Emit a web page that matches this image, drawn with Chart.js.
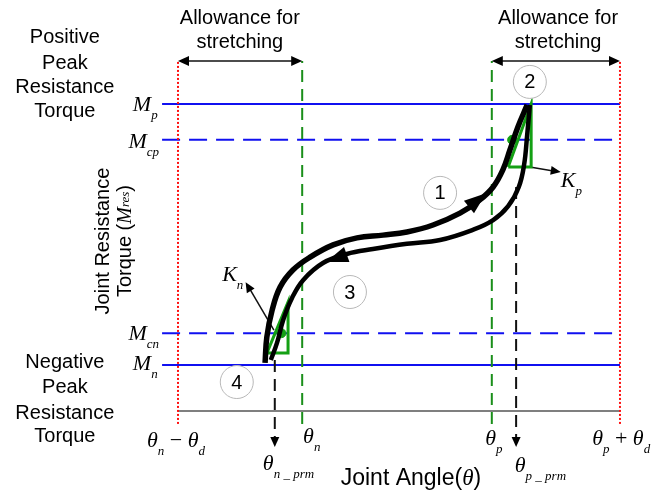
<!DOCTYPE html>
<html>
<head>
<meta charset="utf-8">
<script src="https://cdn.jsdelivr.net/npm/chart.js@4.4.1/dist/chart.umd.min.js"></script>
<style>
  body { margin: 0; background: #fff; }
</style>
</head>
<body>
<canvas id="chart" width="669" height="494"></canvas>
<script>
// angle axis: 0 = θn-θd, 100 = θp+θd ; torque axis: 0 = bottom axis line, 100 = top of the frame
const thetaNd = 0, thetaNprm = 21.9, thetaN = 28.1, thetaP = 71.0, thetaPprm = 76.5, thetaPd = 100;
const mN = 13.2, mCn = 22.3, mCp = 77.7, mP = 88.0;
const frameTop = 100.3, frameBottom = -3.7, lineStart = -3.6, arrowEnd = -10.3;

// path 1 (loading, going right)
const loadX = [19.7, 20.1, 21.3, 23.1, 26.0, 29.9, 35.1, 40.5, 46.4, 51.8, 57.7, 63.8, 68.3, 71.3, 73.5, 75.1, 76.9, 79.0];
const loadY = [13.8, 21.2, 28.9, 35.5, 40.4, 44.1, 47.6, 49.6, 50.4, 51.3, 53.3, 56.7, 60.5, 64.2, 69.1, 74.8, 81.4, 87.7];
// path 3 (unloading, going left)
const unloadX = [79.6, 79.0, 78.3, 77.1, 74.7, 71.3, 66.7, 59.3, 51.8, 44.1, 38.2, 32.8, 28.3, 25.8, 23.8, 22.4, 21.0];
const unloadY = [87.7, 79.1, 70.5, 64.2, 58.7, 54.7, 51.9, 49.0, 47.9, 46.4, 45.0, 42.4, 37.5, 32.4, 26.1, 19.5, 14.6];

// stiffness triangles
const kpX = [74.7, 79.9, 79.9, 74.7];
const kpY = [69.9, 69.9, 88.0, 69.9];
const knX = [20.1, 24.9, 24.9, 20.1];
const knY = [16.6, 16.6, 31.2, 16.6];
const dotX = [75.6, 23.4];
const dotY = [mCp, mCn];

// numbered stages
const stageNames = ['1', '2', '3', '4'];
const stageX = [59.3, 79.6, 38.9, 13.3];
const stageY = [62.5, 94.3, 34.1, 8.3];

const seg = (xs, ys) => xs.map((x, i) => ({ x: x, y: ys[i] }));

function line(data, color, width, dash, order) {
  return {
    data: data, showLine: true, borderColor: color, borderWidth: width,
    borderDash: dash || [], pointRadius: 0, fill: false, tension: 0, order: order || 10
  };
}

const blue = '#1010f0', green = '#1a8f1a', bright = '#14a014', red = '#ff1010';

const datasets = [
  Object.assign(line(seg(loadX, loadY), '#000', 5.5, null, 1), { tension: 0.4 }),
  Object.assign(line(seg(unloadX, unloadY), '#000', 4.5, null, 1), { tension: 0.4 }),
  line(seg(kpX, kpY), bright, 3, null, 2),
  line(seg(knX, knY), bright, 3, null, 2),
  { data: seg(dotX, dotY), pointRadius: 4.5, pointBackgroundColor: bright, pointBorderColor: bright, order: 2 },
  { data: seg(stageX, stageY), pointRadius: 16.5, pointBackgroundColor: '#fff', pointBorderColor: '#b8b8b8', pointBorderWidth: 1, order: 0 },
  line(seg([lineStart, thetaPd], [mP, mP]), blue, 2, null, 5),
  line(seg([lineStart, thetaPd], [mN, mN]), blue, 2, null, 5),
  line(seg([lineStart, thetaPd], [mCp, mCp]), blue, 2, [18, 9], 5),
  line(seg([lineStart, thetaPd], [mCn, mCn]), blue, 2, [18, 9], 5),
  line(seg([thetaNd, thetaNd], [frameBottom, frameTop]), red, 2, [2, 2], 4),
  line(seg([thetaPd, thetaPd], [frameBottom, frameTop]), red, 2, [2, 2], 4),
  line(seg([thetaN, thetaN], [frameBottom, frameTop]), green, 2, [12, 7], 4),
  line(seg([thetaP, thetaP], [frameBottom, frameTop]), green, 2, [12, 7], 4),
  line(seg([thetaNprm, thetaNprm], [14.6, arrowEnd + 2]), '#111', 2, [12, 7], 4),
  line(seg([thetaPprm, thetaPprm], [64.2, arrowEnd + 2]), '#111', 2, [12, 7], 4),
  line(seg([thetaNd, thetaPd], [0, 0]), '#000', 1.2, null, 6),
  line(seg([thetaNd + 2, thetaN - 2], [frameTop, frameTop]), '#111', 1.5, null, 6),
  line(seg([thetaP + 2, thetaPd - 2], [frameTop, frameTop]), '#111', 1.5, null, 6),
  line(seg([79.6, 85.6], [69.9, 68.6]), '#111', 1.5, null, 3),
  line(seg([21.7, 16.0], [23.2, 35.5]), '#111', 1.5, null, 3)
];

// arrowheads: [fromX, fromY, tipX, tipY, length, halfWidth]
const heads = [
  [65.6, 58.2, 69.7, 62.4, 22, 8],
  [38.5, 45.0, 33.5, 42.7, 22, 8],
  [thetaN - 5, frameTop, thetaNd, frameTop, 11, 5],
  [thetaNd + 5, frameTop, thetaN, frameTop, 11, 5],
  [thetaPd - 5, frameTop, thetaP, frameTop, 11, 5],
  [thetaP + 5, frameTop, thetaPd, frameTop, 11, 5],
  [thetaNprm, 0, thetaNprm, arrowEnd, 10, 4.5],
  [thetaPprm, 0, thetaPprm, arrowEnd, 10, 4.5],
  [79.6, 69.9, 86.6, 68.5, 10, 4.5],
  [21.7, 23.2, 15.3, 36.9, 10, 4.5]
];

const sans = (s) => s + 'px "Liberation Sans", Arial, sans-serif';
const serifI = (s) => 'italic ' + s + 'px "Liberation Serif", "Times New Roman", serif';
const serif = (s) => s + 'px "Liberation Serif", "Times New Roman", serif';

const textLines = [
  ['Allowance for', 14.0, 112.6], ['stretching', 14.0, 105.7],
  ['Allowance for', 86.0, 112.6], ['stretching', 86.0, 105.7],
  ['Positive', -25.6, 106.9], ['Peak', -25.6, 99.7], ['Resistance', -25.6, 92.6], ['Torque', -25.6, 85.7],
  ['Negative', -25.6, 13.8], ['Peak', -25.6, 6.6], ['Resistance', -25.6, -0.6], ['Torque', -25.6, -7.4]
];

// [parts, x, y, align]; part kinds: i = italic, s = subscript, u = upright
const mathLabels = [
  [[['M', 'i'], ['p', 's']], -4.6, 86.0, 'right'],
  [[['M', 'i'], ['cp', 's']], -4.3, 75.4, 'right'],
  [[['M', 'i'], ['cn', 's']], -4.3, 20.3, 'right'],
  [[['M', 'i'], ['n', 's']], -4.6, 11.7, 'right'],
  [[['θ', 'i'], ['n', 's'], [' − ', 'u'], ['θ', 'i'], ['d', 's']], -7.0, -10.3, 'left'],
  [[['θ', 'i'], ['n', 's']], 28.3, -9.2, 'left'],
  [[['θ', 'i'], ['n _ prm', 's']], 19.2, -16.9, 'left'],
  [[['θ', 'i'], ['p', 's']], 69.5, -9.7, 'left'],
  [[['θ', 'i'], ['p _ prm', 's']], 76.2, -17.5, 'left'],
  [[['θ', 'i'], ['p', 's'], [' + ', 'u'], ['θ', 'i'], ['d', 's']], 93.7, -9.7, 'left'],
  [[['K', 'i'], ['p', 's']], 86.6, 64.2, 'left'],
  [[['K', 'i'], ['n', 's']], 10.0, 37.2, 'left']
];

function partFont(kind) {
  if (kind === 's') return serifI(13);
  if (kind === 'u') return serif(22);
  return serifI(22);
}

function drawParts(ctx, parts, x, y, align) {
  let w = 0;
  parts.forEach(p => { ctx.font = partFont(p[1]); w += ctx.measureText(p[0]).width; });
  let cx = align === 'right' ? x - w : (align === 'center' ? x - w / 2 : x);
  parts.forEach(p => {
    ctx.font = partFont(p[1]);
    ctx.fillText(p[0], cx, p[1] === 's' ? y + 8 : y);
    cx += ctx.measureText(p[0]).width;
  });
}

function drawRow(ctx, pieces, x, y) {
  // pieces: [text, font]; centred at x
  let w = 0;
  pieces.forEach(p => { ctx.font = p[1]; w += ctx.measureText(p[0]).width; });
  let cx = x - w / 2;
  pieces.forEach(p => { ctx.font = p[1]; ctx.fillText(p[0], cx, y); cx += ctx.measureText(p[0]).width; });
}

const annotate = {
  id: 'annotate',
  afterDatasetsDraw(chart) {
    const ctx = chart.ctx;
    const sx = chart.scales.x, sy = chart.scales.y;
    const px = (v) => sx.getPixelForValue(v), py = (v) => sy.getPixelForValue(v);
    ctx.save();
    ctx.fillStyle = '#000';

    heads.forEach(h => {
      const x0 = px(h[0]), y0 = py(h[1]), x1 = px(h[2]), y1 = py(h[3]);
      const a = Math.atan2(y1 - y0, x1 - x0);
      const len = h[4], hw = h[5];
      ctx.beginPath();
      ctx.moveTo(x1, y1);
      ctx.lineTo(x1 - len * Math.cos(a) + hw * Math.sin(a), y1 - len * Math.sin(a) - hw * Math.cos(a));
      ctx.lineTo(x1 - len * Math.cos(a) - hw * Math.sin(a), y1 - len * Math.sin(a) + hw * Math.cos(a));
      ctx.closePath();
      ctx.fill();
    });

    ctx.textAlign = 'center';
    ctx.textBaseline = 'middle';
    ctx.font = sans(20);
    textLines.forEach(t => ctx.fillText(t[0], px(t[1]), py(t[2])));

    ctx.font = sans(20);
    stageNames.forEach((n, i) => ctx.fillText(n, px(stageX[i]), py(stageY[i]) + 1));

    ctx.textAlign = 'left';
    ctx.textBaseline = 'alphabetic';
    mathLabels.forEach(m => drawParts(ctx, m[0], px(m[1]), py(m[2]), m[3]));

    // x title
    drawRow(ctx, [['Joint Angle(', sans(23)], ['θ', serifI(23)], [')', sans(23)]], px(52.7), py(-21.2));

    // y title
    ctx.save();
    ctx.translate(px(-16.8), py(48.7));
    ctx.rotate(-Math.PI / 2);
    ctx.textBaseline = 'middle';
    drawRow(ctx, [['Joint Resistance', sans(20)]], 0, 0);
    ctx.restore();
    ctx.save();
    ctx.translate(px(-11.8), py(48.7));
    ctx.rotate(-Math.PI / 2);
    ctx.textBaseline = 'middle';
    drawRow(ctx, [['Torque (', sans(20)], ['M', serifI(20)], ['res', serifI(13)], [')', sans(20)]], 0, 0);
    ctx.restore();

    ctx.restore();
  }
};

new Chart(document.getElementById('chart'), {
  type: 'scatter',
  data: { datasets: datasets },
  options: {
    responsive: false,
    animation: false,
    events: [],
    layout: { padding: 0, autoPadding: false },
    plugins: { legend: { display: false }, tooltip: { enabled: false } },
    scales: {
      x: { type: 'linear', display: false, min: -40.27, max: 111.09 },
      y: { type: 'linear', display: false, min: -23.78, max: 117.77 }
    }
  },
  plugins: [annotate]
});
</script>
</body>
</html>
